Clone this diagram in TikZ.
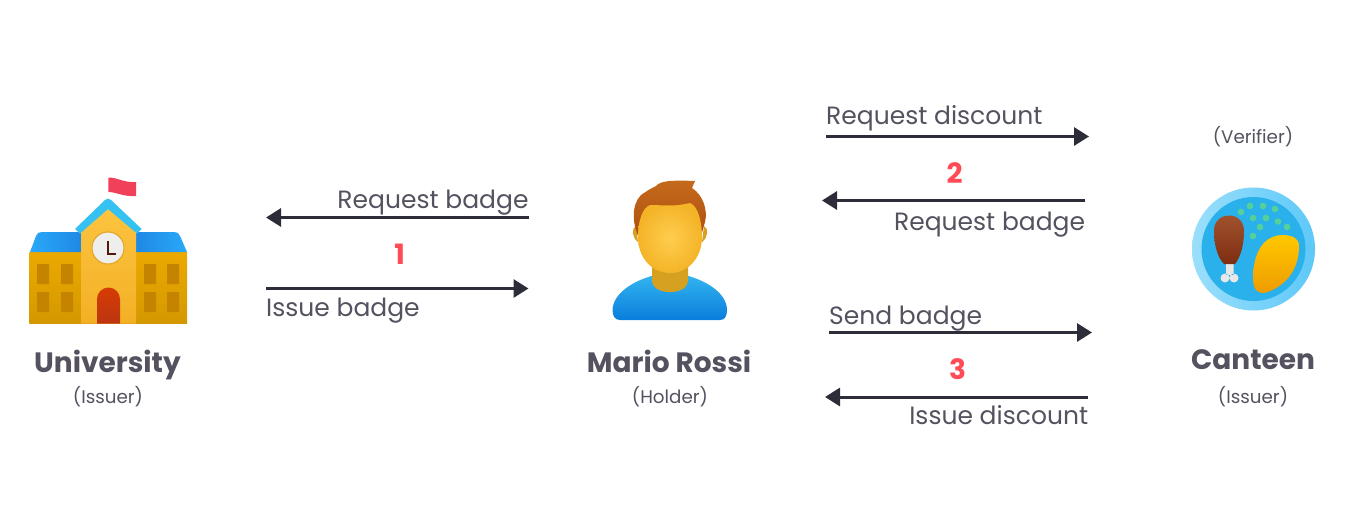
\documentclass[tikz,border=0pt]{standalone}
\usepackage{fontspec}
\setmainfont{Poppins}
\usetikzlibrary{arrows.meta}
\definecolor{ink}{HTML}{55515F}
\definecolor{wire}{HTML}{2D2D3A}
\definecolor{stepred}{HTML}{FF4B55}
\definecolor{walltop}{HTML}{EBA900}
\definecolor{wallbot}{HTML}{D49800}
\definecolor{towertop}{HTML}{FCC440}
\definecolor{towerbot}{HTML}{F3B026}
\definecolor{rooflo}{HTML}{1E88E5}
\definecolor{roofhi}{HTML}{2AA8F7}
\definecolor{gable}{HTML}{35C1F1}
\definecolor{pane}{HTML}{C48400}
\definecolor{doortop}{HTML}{D63C02}
\definecolor{doorbot}{HTML}{BC3512}
\definecolor{flag}{HTML}{F0405A}
\definecolor{dial}{HTML}{EEEEEC}
\definecolor{shirttop}{HTML}{35B8F0}
\definecolor{shirtbot}{HTML}{0A7EDC}
\definecolor{neck}{HTML}{D6A020}
\definecolor{hairtop}{HTML}{C46A1C}
\definecolor{hairbot}{HTML}{AE4E10}
\definecolor{facein}{HTML}{FFCD4E}
\definecolor{faceout}{HTML}{F4B428}
\definecolor{platehi}{HTML}{9ADFFB}
\definecolor{platelo}{HTML}{5EC8F8}
\definecolor{plateins}{HTML}{2AB0EA}
\definecolor{pea}{HTML}{55D098}
\definecolor{bone}{HTML}{E8E8E8}
\definecolor{meattop}{HTML}{A0522D}
\definecolor{meatbot}{HTML}{7E2D10}
\definecolor{mangotop}{HTML}{FFC800}
\definecolor{mangobot}{HTML}{EE9A00}
\tikzset{
flow/.style={draw=wire, line width=3pt, -{Triangle[length=15pt,width=18pt]}},
msg/.style={text=ink, font=\fontsize{25}{28}\selectfont, inner sep=0pt, anchor=base west},
msgr/.style={msg, anchor=base east},
who/.style={text=ink, font=\fontsize{28}{32}\selectfont\bfseries, inner sep=0pt, anchor=base},
role/.style={text=ink, font=\fontsize{18.3}{22}\selectfont, inner sep=0pt, anchor=base},
stepnum/.style={text=stepred, font=\fontsize{28}{32}\selectfont\bfseries, inner sep=0pt, anchor=base}
}
\begin{document}
\begin{tikzpicture}[x=1pt,y=-1pt]
\useasboundingbox (0,0) rectangle (1359,508);
% university
\fill[flag] (108.3,177.5) .. controls (116,177) and (124,183) .. (136,182) -- (136,196) .. controls (124,197) and (116,192) .. (108.3,192) -- cycle;
\shade[top color=walltop, bottom color=wallbot] (29.3,252) rectangle (187,323.5);
\shade[left color=roofhi, right color=rooflo] (30,252) -- (36,236) .. controls (37,233) and (39,232) .. (42,232) -- (82,232) -- (82,252) -- cycle;
\shade[left color=rooflo, right color=roofhi] (135,232) -- (174,232) .. controls (177,232) and (179,233) .. (180,236) -- (187,252) -- (135,252) -- cycle;
\fill[pane] (37,264) rectangle (49,284) (61,264) rectangle (73,284) (37,292) rectangle (49,312) (61,292) rectangle (73,312)
(144,264) rectangle (156,284) (167,264) rectangle (179,284) (144,292) rectangle (156,312) (167,292) rectangle (179,312);
\shade[top color=towertop, bottom color=towerbot] (81,323.5) -- (81,231) -- (108,207) -- (136,231) -- (136,323.5) -- cycle;
\fill[gable] (75,229) -- (105,200) -- (108,198.5) -- (111,200) -- (141.7,229) -- (137,233.5) -- (108,209) -- (80,233.5) -- cycle;
\fill[dial,draw=pane!50!towertop,line width=1pt] (108,248) circle[radius=16];
\draw[doorbot!45!black,line width=2pt] (108.3,241) -- (108.3,253.5) -- (116,253.5);
\shade[top color=doortop, bottom color=doorbot] (97,323.5) -- (97,299) arc[start angle=180, end angle=360, radius=11.5] -- (120,323.5) -- cycle;
% person
\shade[top color=shirttop, bottom color=shirtbot] (612.5,310) .. controls (613,293) and (635,277) .. (670,272) .. controls (705,277) and (727,293) .. (727,310) .. controls (727,316) and (725,320) .. (720,320) -- (620,320) .. controls (615,320) and (612.5,316) .. (612.5,310) -- cycle;
\fill[neck] (652,255) -- (688,255) -- (688,280) .. controls (688,288) and (680,292) .. (670,292) .. controls (660,292) and (652,288) .. (652,280) -- cycle;
\fill[neck] (636,226) .. controls (631,228) and (632,238) .. (638,242) -- cycle (704,226) .. controls (709,228) and (708,238) .. (702,242) -- cycle;
\shade[top color=hairtop, bottom color=hairbot] (640,240) .. controls (632,225) and (631,205) .. (641,195) .. controls (648,190) and (652,188) .. (656,186) .. controls (660,181) and (670,180) .. (695,181) -- (692,188) .. controls (703,195) and (708,210) .. (705,222) -- (700,240) -- cycle;
\shade[inner color=facein, outer color=faceout] (670,205.5) .. controls (678,205.5) and (686,204) .. (690,203) .. controls (698,206) and (702,222) .. (702,237) .. controls (702,258) and (688,273) .. (670,273) .. controls (652,273) and (638,258) .. (638,237) .. controls (638,222) and (642,208) .. (650,205) .. controls (656,205) and (662,205.5) .. (670,205.5) -- cycle;
% canteen
\shade[left color=platehi, right color=platelo] (1253.5,249) circle[radius=61.5];
\fill[plateins] (1253.5,249) circle[radius=52];
\fill[bone] (1226,262) rectangle (1233.5,275) (1225,278) circle[radius=4.5] (1234,278) circle[radius=4.5];
\shade[top color=meattop, bottom color=meatbot] (1214,231) .. controls (1214,220) and (1222,215.5) .. (1229,215.5) .. controls (1238,215.5) and (1244,222) .. (1244,231) .. controls (1244,246) and (1240,258) .. (1235,264) -- (1224,264) .. controls (1218,258) and (1214,246) .. (1214,231) -- cycle;
\shade[top color=mangotop, bottom color=mangobot] (1253,278) .. controls (1253,260) and (1259,236) .. (1282,235) .. controls (1292,235) and (1299,238) .. (1299,246) .. controls (1299,268) and (1288,284) .. (1268,292) .. controls (1258,295) and (1253,290) .. (1253,278) -- cycle;
\fill[pea] (1241,212) circle[radius=3.3] (1250,206) circle[radius=3.3] (1263,206) circle[radius=3.3] (1275,209) circle[radius=3.3] (1253,218) circle[radius=3.3] (1266,218) circle[radius=3.3] (1278,221.5) circle[radius=3.3] (1287,227) circle[radius=3.3] (1260,227) circle[radius=3.3] (1253,236) circle[radius=3.3];
% arrows
\coordinate (reqa) at (528.5,217.5);
\coordinate (reqb) at (266,217.5);
\coordinate (issa) at (266,288.5);
\coordinate (issb) at (528.5,288.5);
\coordinate (disa) at (826,136.5);
\coordinate (disb) at (1089,136.5);
\coordinate (askc) at (1085,200.5);
\coordinate (askd) at (822,200.5);
\coordinate (sena) at (829,332.5);
\coordinate (senb) at (1092,332.5);
\coordinate (gotc) at (1088,397);
\coordinate (gotd) at (825,397);
\draw[flow] (reqa)--(reqb);
\draw[flow] (issa)--(issb);
\draw[flow] (disa)--(disb);
\draw[flow] (askc)--(askd);
\draw[flow] (sena)--(senb);
\draw[flow] (gotc)--(gotd);
\node[msgr] (reqtext) at (528.7,208) {Request badge};
\node[msg] (isstext) at (266,316.3) {Issue badge};
\node[msg] (distext) at (826,124.7) {Request discount};
\node[msgr] (asktext) at (1085.3,230) {Request badge};
\node[msg] (sentext) at (829,324) {Send badge};
\node[msgr] (gottext) at (1088.3,424) {Issue discount};
\node[stepnum] (one) at (399.7,264.5) {1};
\node[stepnum] (two) at (954.7,183.5) {2};
\node[stepnum] (three) at (957.7,379.5) {3};
\node[who] (uni) at (107.5,372) {University};
\node[role] (unirole) at (108,403.2) {(Issuer)};
\node[who] (mario) at (669,372) {Mario Rossi};
\node[role] (mariorole) at (670,403.2) {(Holder)};
\node[who] (can) at (1253,369) {Canteen};
\node[role] (canrole) at (1253,403.2) {(Issuer)};
\node[role] (canver) at (1253,143.3) {(Verifier)};
\end{tikzpicture}
\end{document}
